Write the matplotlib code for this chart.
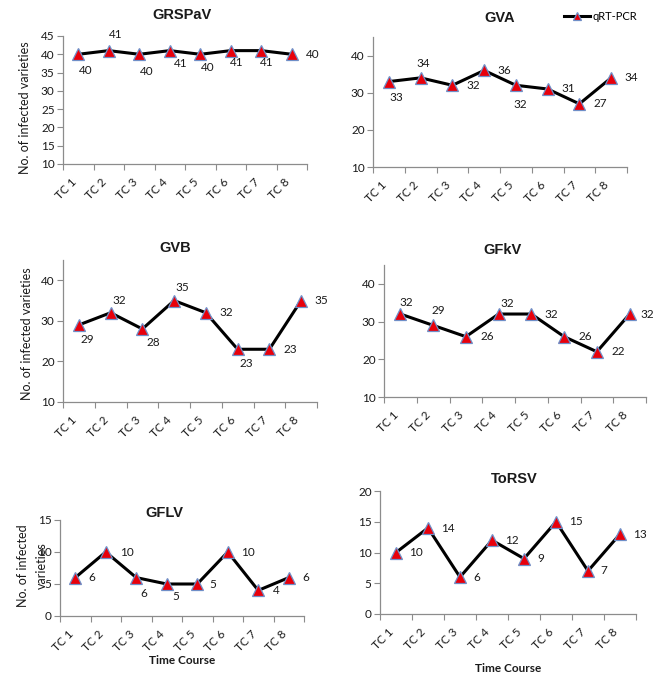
"""Infection time-course panels for six grapevine viruses (qRT-PCR)."""

import matplotlib

matplotlib.use("Agg")
import matplotlib.pyplot as plt
from matplotlib.lines import Line2D

W, H = 663, 675

tc_labels = ["TC 1", "TC 2", "TC 3", "TC 4", "TC 5", "TC 6", "TC 7", "TC 8"]

grspav = [40, 41, 40, 41, 40, 41, 41, 40]
gva = [33, 34, 32, 36, 32, 31, 27, 34]
gvb = [29, 32, 28, 35, 32, 23, 23, 35]
gfkv = [32, 29, 26, 32, 32, 26, 22, 32]
gflv = [6, 10, 6, 5, 5, 10, 4, 6]
torsv = [10, 14, 6, 12, 9, 15, 7, 13]

NUM_FONT = "Lato"
TITLE_FONT = "Liberation Sans"
SPINE = "#8c8c8c"
TEXT = "#1a1a1a"


def px_box(left, right, top, bottom):
    return [left / W, 1 - bottom / H, (right - left) / W, (bottom - top) / H]


def px(x, y):
    return x / W, 1 - y / H


# (name, values, axes box in px, ylim, yticks, title pos, label offsets (dx, dy-down))
panels = [
    ("GRSPaV", grspav, (63, 307, 36, 164), (10, 45), range(10, 46, 5), (182, 15),
     [(7, 16), (7, -16), (7, 17), (11, 13), (7, 13), (6, 12), (5, 12), (21, 0)]),
    ("GVA", gva, (373, 627, 37, 167), (10, 45), range(10, 41, 10), (500, 18),
     [(7, 16), (3, -14), (21, 0), (20, 0), (4, 19), (21, 0), (21, 0), (20, 0)]),
    ("GVB", gvb, (63, 317, 260, 402), (10, 45), range(10, 41, 10), (175, 248),
     [(8, 15), (9, -12), (11, 14), (8, -13), (20, 0), (9, 14), (21, 0), (20, 0)]),
    ("GFkV", gfkv, (384, 646, 265, 397), (10, 45), range(10, 41, 10), (503, 250),
     [(6, -12), (5, -15), (21, 0), (9, -11), (20, 0), (21, 0), (21, 0), (18, 0)]),
    ("GFLV", gflv, (60, 304, 520, 616), (0, 15), range(0, 16, 5), (164, 513),
     [(17, 0), (21, 0), (8, 16), (9, 12), (16, 0), (20, 0), (18, 0), (17, 0)]),
    ("ToRSV", torsv, (380, 636, 491, 614), (0, 20), range(0, 21, 5), (514, 479),
     [(20, 0), (20, 1), (17, 0), (20, 0), (17, 0), (20, 0), (16, 0), (20, 0)]),
]

line_style = dict(color="black", lw=2.2, marker="^", markersize=8,
                  markerfacecolor="#e8000b", markeredgecolor="#6f8fc8",
                  markeredgewidth=0.9)

fig = plt.figure(figsize=(W / 100, H / 100), dpi=100)

for name, values, box, ylim, yticks, title_pos, offsets in panels:
    ax = fig.add_axes(px_box(*box))
    x = range(len(values))
    ax.plot(x, values, zorder=3, clip_on=False, **line_style)
    for xi, v, (dx, dy) in zip(x, values, offsets):
        ax.annotate(str(v), (xi, v), xytext=(dx, -dy), textcoords="offset pixels",
                    ha="center", va="center", fontsize=8.5, family=NUM_FONT,
                    color=TEXT, zorder=4)

    ax.set_xlim(-0.5, len(values) - 0.5)
    ax.set_ylim(*ylim)
    ax.set_yticks(list(yticks))
    ax.set_xticks([i - 0.5 for i in range(len(values) + 1)], minor=False)
    ax.set_xticklabels([])
    ax.set_xticks(list(x), minor=True)
    ax.set_xticklabels(tc_labels, minor=True, rotation=45, ha="right", va="top",
                       rotation_mode="default", fontsize=8.5, family=NUM_FONT,
                       color=TEXT)
    ax.tick_params(axis="x", which="minor", length=0, pad=9)
    ax.tick_params(axis="x", which="major", length=4, color=SPINE, width=0.8)
    ax.tick_params(axis="y", length=4, color=SPINE, width=0.8, pad=2,
                   labelsize=8.5, labelcolor=TEXT)
    for lab in ax.get_yticklabels():
        lab.set_family(NUM_FONT)
    for side in ("top", "right"):
        ax.spines[side].set_visible(False)
    for side in ("left", "bottom"):
        ax.spines[side].set_color(SPINE)
        ax.spines[side].set_linewidth(0.9)

    fig.text(*px(*title_pos), name, ha="center", va="center", fontsize=10.5,
             fontweight="bold", family=TITLE_FONT, color=TEXT)

# y-axis titles
ylab = dict(rotation=90, ha="center", va="center", fontsize=9, family=NUM_FONT,
            color=TEXT)
fig.text(*px(25, 108), "No. of infected varieties", **ylab)
fig.text(*px(27, 334), "No. of infected varieties", **ylab)
fig.text(*px(23, 566), "No. of infected", **ylab)
fig.text(*px(42, 566), "varieties", **ylab)

# x-axis titles
for pos in [(182, 661), (508, 668)]:
    fig.text(*px(*pos), "Time Course", ha="center", va="center", fontsize=8.5,
             fontweight="bold", family=NUM_FONT, color=TEXT)

handle = Line2D([], [], **{**line_style, "markersize": 6})
fig.legend([handle], ["qRT-PCR"], loc="center left", bbox_to_anchor=px(564, 16),
           frameon=False, handlelength=2.3, handletextpad=0.3,
           borderpad=0, borderaxespad=0, prop={"family": NUM_FONT, "size": 8})

fig.savefig("out.png", dpi=100)
plt.close(fig)
